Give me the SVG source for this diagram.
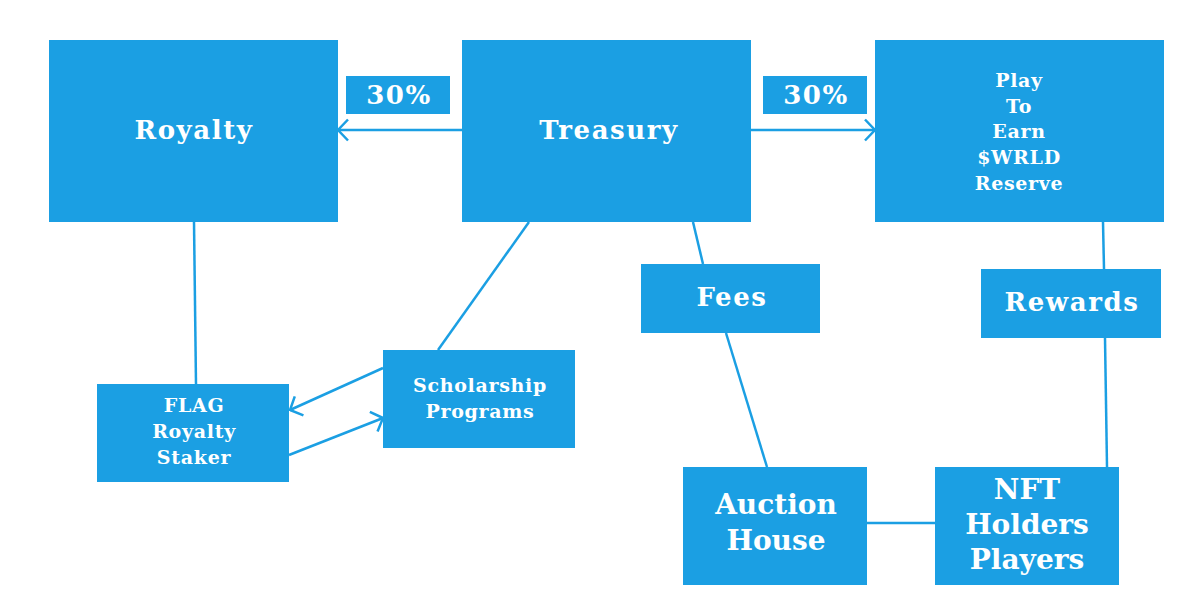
<svg xmlns="http://www.w3.org/2000/svg" width="1197" height="613" viewBox="0 0 1197 613">
<defs>
<style>
.box{fill:#1b9fe3}
.t{font-family:"DejaVu Serif","Liberation Serif",serif;font-weight:bold;fill:#ffffff;text-anchor:middle;dominant-baseline:central}
.m{letter-spacing:1.6px}
.s{letter-spacing:0.7px}
.l{stroke:#1b9fe3;stroke-width:2.5;fill:none}
.a{marker-end:url(#arr)}
</style>
<marker id="arr" viewBox="0 0 12 24" refX="11" refY="12" markerWidth="12" markerHeight="24" markerUnits="userSpaceOnUse" orient="auto">
<path d="M1,1.5 L11,12 L1,22.5" fill="none" stroke="#1b9fe3" stroke-width="2.5"/>
</marker>
</defs>
<rect width="1197" height="613" fill="#ffffff"/>
<g id="connectors">
<line class="l a" x1="462" y1="130" x2="338" y2="130"/>
<line class="l a" x1="751" y1="130" x2="875" y2="130"/>
<line class="l" x1="194" y1="222" x2="196" y2="384"/>
<line class="l" x1="529" y1="222" x2="438" y2="350"/>
<line class="l a" x1="383" y1="368" x2="290" y2="410"/>
<line class="l a" x1="289" y1="455" x2="383" y2="418"/>
<line class="l" x1="693" y1="222" x2="703" y2="264"/>
<line class="l" x1="726" y1="333" x2="767" y2="467"/>
<line class="l" x1="1103" y1="222" x2="1104" y2="269"/>
<line class="l" x1="1105" y1="338" x2="1107" y2="467"/>
<line class="l" x1="867" y1="523" x2="935" y2="523"/>
</g>
<g id="royalty"><rect class="box" x="49" y="40" width="289" height="182"/><text class="t m" x="194" y="130" font-size="26">Royalty</text></g>
<g id="treasury"><rect class="box" x="462" y="40" width="289" height="182"/><text class="t m" x="609" y="130" font-size="26">Treasury</text></g>
<g id="p2e"><rect class="box" x="875" y="40" width="289" height="182"/>
<text class="t s" font-size="19"><tspan x="1019" y="80">Play</tspan><tspan x="1019" y="106">To</tspan><tspan x="1019" y="131">Earn</tspan><tspan x="1019" y="157">$WRLD</tspan><tspan x="1019" y="183">Reserve</tspan></text></g>
<g id="pct-left"><rect class="box" x="346" y="76" width="104" height="38"/><text class="t m" x="399" y="95" font-size="26">30%</text></g>
<g id="pct-right"><rect class="box" x="763" y="76" width="104" height="38"/><text class="t m" x="816" y="95" font-size="26">30%</text></g>
<g id="fees"><rect class="box" x="641" y="264" width="179" height="69"/><text class="t m" x="732" y="297" font-size="26">Fees</text></g>
<g id="rewards"><rect class="box" x="981" y="269" width="180" height="69"/><text class="t m" x="1072" y="302" font-size="26">Rewards</text></g>
<g id="scholarship"><rect class="box" x="383" y="350" width="192" height="98"/>
<text class="t s" font-size="19"><tspan x="480" y="385">Scholarship</tspan><tspan x="480" y="411">Programs</tspan></text></g>
<g id="flag"><rect class="box" x="97" y="384" width="192" height="98"/>
<text class="t s" font-size="19"><tspan x="194" y="405">FLAG</tspan><tspan x="194" y="431">Royalty</tspan><tspan x="194" y="457">Staker</tspan></text></g>
<g id="auction"><rect class="box" x="683" y="467" width="184" height="118"/>
<text class="t" font-size="28"><tspan x="776" y="504">Auction</tspan><tspan x="776" y="540">House</tspan></text></g>
<g id="nft"><rect class="box" x="935" y="467" width="184" height="118"/>
<text class="t" font-size="28"><tspan x="1027" y="489">NFT</tspan><tspan x="1027" y="524">Holders</tspan><tspan x="1027" y="559">Players</tspan></text></g>
</svg>
